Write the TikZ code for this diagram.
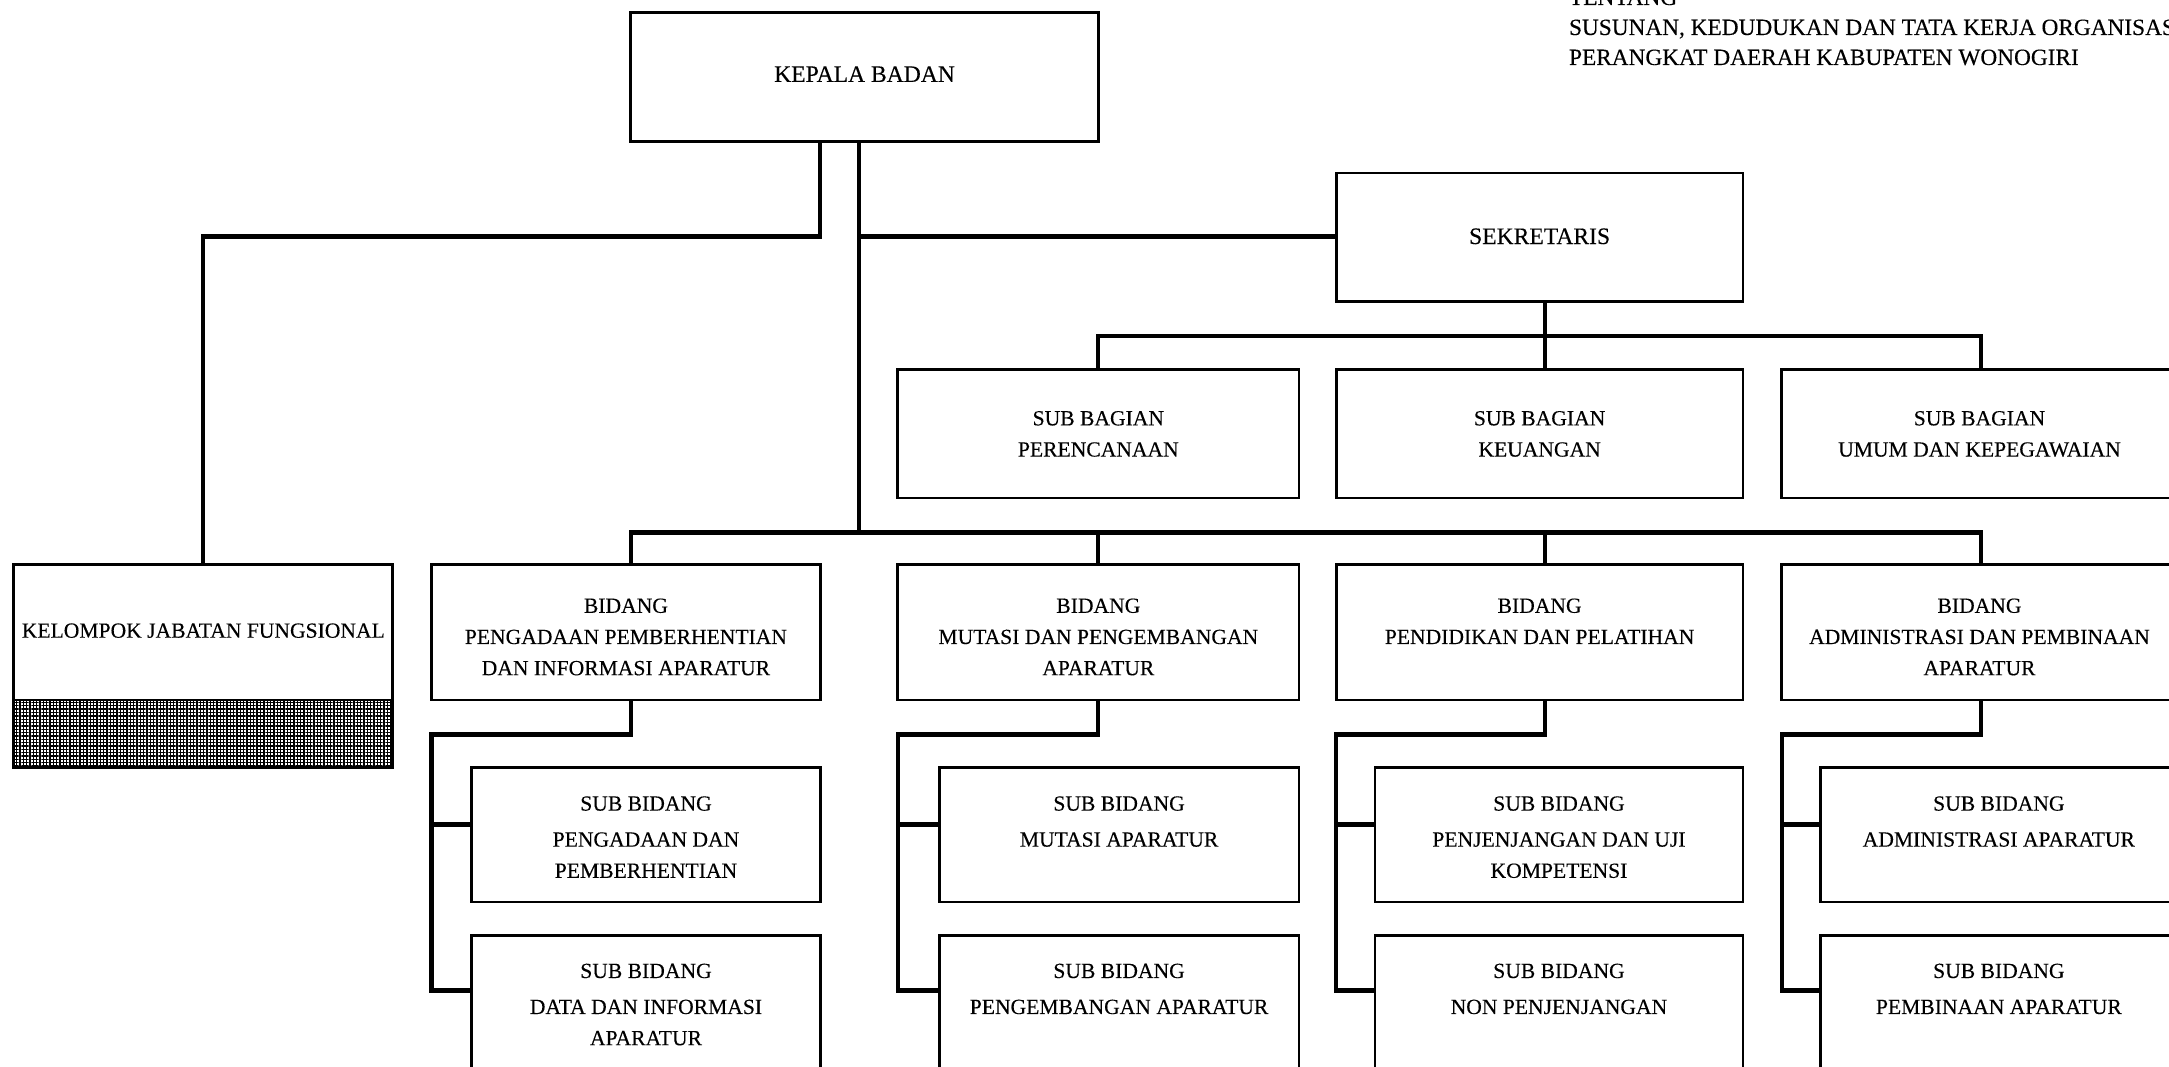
\documentclass[tikz,border=0pt]{standalone}
\usepackage{fontspec}
\setmainfont{Liberation Serif}[FakeBold=0.25]
\usetikzlibrary{fit,calc,patterns.meta}
\newcommand\bodysize{\fontsize{10.8}{15.6}\selectfont}
\newcommand\headsize{\fontsize{11.8}{15}\selectfont}
\newcommand\notesize{\fontsize{11.65}{15}\selectfont}
\newcommand\stacklines[1]{\parbox[t]{210pt}{\centering #1}}
\begin{document}
\begin{tikzpicture}[x=0.6917pt,y=-0.6917pt,
  box/.style={draw, line width=1.4pt, inner sep=0pt},
  conn/.style={draw, line width=2.1pt, line join=miter},
  lbl/.style={inner sep=0pt, anchor=base, font=\bodysize},
  shade/.style={draw, line width=1.4pt, inner sep=0pt,
    pattern={Hatch[angle=0,distance=1.67pt,line width=0.67pt]}}]
\useasboundingbox (0,0) rectangle (1568,771);

% heading of the regulation
\node[font=\notesize, inner sep=0pt, anchor=base west] (hdr) at (1134,3.6)
  {\parbox[t]{420pt}{\raggedright TENTANG\\SUSUNAN, KEDUDUKAN DAN TATA KERJA ORGANISASI\\PERANGKAT DAERAH KABUPATEN WONOGIRI}};

% top level
\node[box, fit={(456,9) (794,102)}] (kb) {};
\node[box, fit={(966,125) (1260,218)}] (sek) {};
\node[lbl, font=\headsize] (kbt) at ($(kb.north)+(0,51.2)$) {KEPALA BADAN};
\node[lbl, font=\headsize] (sekt) at ($(sek.north)+(0,52.4)$) {SEKRETARIS};

% secretariat sub-sections
\node[box, fit={(649,267) (939,360)}] (sb1) {};
\node[box, fit={(966,267) (1260,360)}] (sb2) {};
\node[box, fit={(1288,267) (1574,360)}] (sb3) {};
\node[lbl] (sb1t) at ($(sb1.north)+(0,41.5)$) {\stacklines{SUB BAGIAN\\PERENCANAAN}};
\node[lbl] (sb2t) at ($(sb2.north)+(0,41.5)$) {\stacklines{SUB BAGIAN\\KEUANGAN}};
\node[lbl] (sb3t) at ($(sb3.north)+(0,41.5)$) {\stacklines{SUB BAGIAN\\UMUM DAN KEPEGAWAIAN}};

% functional group
\node[box, fit={(10,408) (284,506)}] (kjf) {};
\node[shade, fit={(10,506) (284,555)}] (kjfs) {};
\node[lbl] (kjft) at ($(kjf.north)+(0,54)$) {KELOMPOK JABATAN FUNGSIONAL};

% divisions
\node[box, fit={(312,408) (593,506)}] (bd1) {};
\node[box, fit={(649,408) (939,506)}] (bd2) {};
\node[box, fit={(966,408) (1260,506)}] (bd3) {};
\node[box, fit={(1288,408) (1574,506)}] (bd4) {};
\node[lbl] (bd1t) at ($(bd1.north)+(0,36)$) {\stacklines{BIDANG\\PENGADAAN PEMBERHENTIAN\\DAN INFORMASI APARATUR}};
\node[lbl] (bd2t) at ($(bd2.north)+(0,36)$) {\stacklines{BIDANG\\MUTASI DAN PENGEMBANGAN\\APARATUR}};
\node[lbl] (bd3t) at ($(bd3.north)+(0,36)$) {\stacklines{BIDANG\\PENDIDIKAN DAN PELATIHAN}};
\node[lbl] (bd4t) at ($(bd4.north)+(0,36)$) {\stacklines{BIDANG\\ADMINISTRASI DAN PEMBINAAN\\APARATUR}};

% sub-divisions
\node[box, fit={(341,555) (593,652)}] (s11) {};
\node[box, fit={(341,676) (593,776)}] (s12) {};
\node[box, fit={(679,555) (939,652)}] (s21) {};
\node[box, fit={(679,676) (939,776)}] (s22) {};
\node[box, fit={(994,555) (1260,652)}] (s31) {};
\node[box, fit={(994,676) (1260,776)}] (s32) {};
\node[box, fit={(1316,555) (1574,652)}] (s41) {};
\node[box, fit={(1316,676) (1574,776)}] (s42) {};
\node[lbl] (s11t) at ($(s11.north)+(0,32)$) {\stacklines{SUB BIDANG\\[2.4pt]PENGADAAN DAN\\PEMBERHENTIAN}};
\node[lbl] (s12t) at ($(s12.north)+(0,32)$) {\stacklines{SUB BIDANG\\[2.4pt]DATA DAN INFORMASI\\APARATUR}};
\node[lbl] (s21t) at ($(s21.north)+(0,32)$) {\stacklines{SUB BIDANG\\[2.4pt]MUTASI APARATUR}};
\node[lbl] (s22t) at ($(s22.north)+(0,32)$) {\stacklines{SUB BIDANG\\[2.4pt]PENGEMBANGAN APARATUR}};
\node[lbl] (s31t) at ($(s31.north)+(0,32)$) {\stacklines{SUB BIDANG\\[2.4pt]PENJENJANGAN DAN UJI\\KOMPETENSI}};
\node[lbl] (s32t) at ($(s32.north)+(0,32)$) {\stacklines{SUB BIDANG\\[2.4pt]NON PENJENJANGAN}};
\node[lbl] (s41t) at ($(s41.north)+(0,32)$) {\stacklines{SUB BIDANG\\[2.4pt]ADMINISTRASI APARATUR}};
\node[lbl] (s42t) at ($(s42.north)+(0,32)$) {\stacklines{SUB BIDANG\\[2.4pt]PEMBINAAN APARATUR}};

% junction points
\coordinate (kl) at (593,171);
\coordinate (kr) at (621,171);
\coordinate (hub) at (621,385);
\coordinate (sj) at (1117,243);
\coordinate (b1) at (456,385);
\coordinate (b2) at (794,385);
\coordinate (b3) at (1117,385);
\coordinate (b4) at (1432,385);

% head to functional group, secretary and divisions
\draw[conn] (kb.south -| kl) -- (kl) -| (kjf.north);
\draw[conn] (kb.south -| kr) -- (hub);
\draw[conn] (kr) -- (kr -| sek.west);

% secretary to its sub-sections
\draw[conn] (sek.south -| sj) -- (sj |- sb2.north);
\draw[conn] (sb1.north) -- (sb1.north |- sj) -- (sj -| b4) -- (b4 |- sb3.north);

% division bus
\draw[conn] (b1 |- bd1.north) -- (b1) -- (b4) -- (b4 |- bd4.north);
\draw[conn] (b2) -- (b2 |- bd2.north);
\draw[conn] (b3) -- (b3 |- bd3.north);

% division to sub-division brackets
\foreach \i/\xd/\xl in {1/456/312, 2/794/649, 3/1117/966, 4/1432/1288} {
  \coordinate (e\i) at (\xd,531);
  \coordinate (f\i) at (\xl,531);
  \coordinate (h\i) at (\xl,596);
  \coordinate (g\i) at (\xl,716);
  \draw[conn] (bd\i.south -| e\i) -- (e\i) -- (f\i) -- (g\i) -- (g\i -| s\i2.west);
  \draw[conn] (h\i) -- (h\i -| s\i1.west);
}
\end{tikzpicture}
\end{document}
